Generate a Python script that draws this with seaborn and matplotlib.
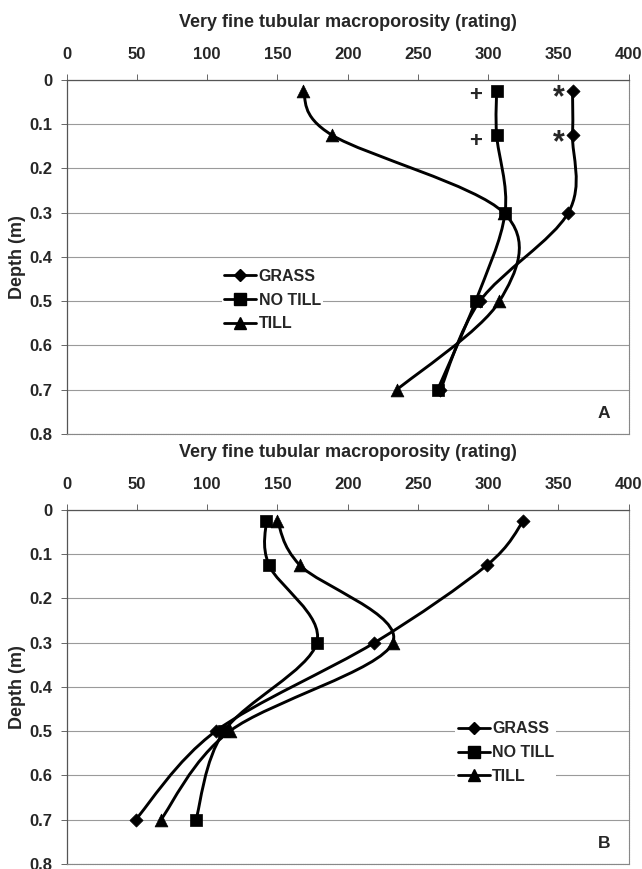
import numpy as np
import pandas as pd
import seaborn as sns
import matplotlib.pyplot as plt
from matplotlib.path import Path
from matplotlib.patches import PathPatch
from matplotlib.lines import Line2D

# Data
depth = [0.025, 0.125, 0.3, 0.5, 0.7]
treatments = ["GRASS", "NO TILL", "TILL"]

a_grass = [360, 360, 357, 294, 266]
a_notill = [306, 306, 312, 291, 264]
a_till = [168, 189, 311, 308, 235]

b_grass = [325, 299, 219, 106, 49]
b_notill = [142, 144, 178, 112, 92]
b_till = [150, 166, 232, 116, 67]

x_ticks = [0, 50, 100, 150, 200, 250, 300, 350, 400]
y_ticks = [0, 0.1, 0.2, 0.3, 0.4, 0.5, 0.6, 0.7, 0.8]
y_ticklabels = ["0", "0.1", "0.2", "0.3", "0.4", "0.5", "0.6", "0.7", "0.8"]

# significance marks in panel A
sig_plus_x = [291, 291]
sig_star_x = [350, 350]
sig_y = [0.036, 0.138]

panels = {
    "A": {"GRASS": a_grass, "NO TILL": a_notill, "TILL": a_till},
    "B": {"GRASS": b_grass, "NO TILL": b_notill, "TILL": b_till},
}

rows = []
for panel, series in panels.items():
    for trt, vals in series.items():
        for d, v in zip(depth, vals):
            rows.append({"panel": panel, "treatment": trt, "rating": v, "depth": d})
df = pd.DataFrame(rows)

# marker styles (Excel look)
markers = {"GRASS": "D", "NO TILL": "s", "TILL": "^"}
msize = {"GRASS": 45, "NO TILL": 85, "TILL": 85}
leg_msize = {"GRASS": 6.5, "NO TILL": 9, "TILL": 9}

sns.set_style("ticks")
plt.rcParams["font.family"] = ["Liberation Sans", "DejaVu Sans"]
plt.rcParams["font.weight"] = "bold"


def smooth_path(xs, ys):
    """Excel-like smoothed line: Catmull-Rom as cubic Bezier."""
    pts = np.column_stack([xs, ys]).astype(float)
    n = len(pts)
    verts = [pts[0]]
    codes = [Path.MOVETO]
    for i in range(n - 1):
        p_prev = pts[i - 1] if i > 0 else pts[i]
        p_next = pts[i + 2] if i + 2 < n else pts[i + 1]
        c1 = pts[i] + (pts[i + 1] - p_prev) / 6
        c2 = pts[i + 1] - (p_next - pts[i]) / 6
        verts += [c1, c2, pts[i + 1]]
        codes += [Path.CURVE4] * 3
    return Path(verts, codes)


def draw_panel(ax, panel, legend_anchor):
    sub = df[df.panel == panel]
    for trt in treatments:
        d = sub[sub.treatment == trt]
        ax.add_patch(PathPatch(smooth_path(d.rating, d.depth), fill=False,
                               edgecolor="black", lw=2.1, zorder=3))
        sns.scatterplot(data=d, x="rating", y="depth", marker=markers[trt],
                        s=msize[trt], color="black", edgecolor="black",
                        linewidth=0.5, ax=ax, zorder=4, legend=False)

    ax.set_xlim(0, 400)
    ax.set_ylim(0.8, 0)
    ax.set_xticks(x_ticks)
    ax.set_yticks(y_ticks)
    ax.set_yticklabels(y_ticklabels)
    ax.xaxis.tick_top()
    ax.tick_params(axis="x", top=True, bottom=False, length=4, width=0.7,
                   color="#666", pad=9, labelsize=12)
    ax.tick_params(axis="y", length=4, width=0.7, color="#666", pad=6,
                   labelsize=12)
    for lab in ax.get_xticklabels() + ax.get_yticklabels():
        lab.set_fontweight("bold")
    ax.set_xlabel("")
    ax.set_ylabel("")
    ax.grid(axis="y", color="#9a9a9a", lw=0.8)
    ax.grid(axis="x", visible=False)
    for side in ["top", "left"]:
        ax.spines[side].set_color("#555")
        ax.spines[side].set_linewidth(0.9)
    for side in ["bottom", "right"]:
        ax.spines[side].set_color("#888")
        ax.spines[side].set_linewidth(0.8)
        ax.spines[side].set_linestyle((0, (1, 0.6)))

    ax.text(0.5, 1.162, "Very fine tubular macroporosity (rating)",
            transform=ax.transAxes, ha="center", va="center",
            fontsize=13, fontweight="bold")
    ax.text(-0.088, 0.5, "Depth (m)", transform=ax.transAxes, rotation=90,
            ha="center", va="center", fontsize=13, fontweight="bold")
    ax.text(0.956, 0.057, panel, transform=ax.transAxes, ha="center",
            va="center", fontsize=12.5, fontweight="bold")

    handles = [Line2D([0], [0], color="black", lw=2, marker=markers[t],
                      markersize=leg_msize[t]) for t in treatments]
    leg = ax.legend(handles, treatments, loc="upper left",
                    bbox_to_anchor=legend_anchor, frameon=True,
                    facecolor="white", edgecolor="none", framealpha=1,
                    fancybox=False, borderpad=0.15, handlelength=2.0,
                    handletextpad=0.15, labelspacing=0.55,
                    prop={"weight": "bold", "size": 11.5})
    leg.set_zorder(5)


fig = plt.figure(figsize=(6.42, 8.69), dpi=100)
ax_a = fig.add_axes([0.1039, 0.5006, 0.8754, 0.4074])
ax_b = fig.add_axes([0.1039, 0.00575, 0.8754, 0.4074])

draw_panel(ax_a, "A", (0.262, 0.496))
draw_panel(ax_b, "B", (0.677, 0.432))

for x, y in zip(sig_plus_x, sig_y):
    ax_a.text(x, y, "+", ha="center", va="center", fontsize=16,
              fontweight="bold", zorder=6)
for x, y in zip(sig_star_x, sig_y):
    ax_a.text(x, y + 0.006, "*", ha="center", va="center", fontsize=22,
              fontweight="bold", zorder=6)

fig.savefig("out.png", dpi=100)
